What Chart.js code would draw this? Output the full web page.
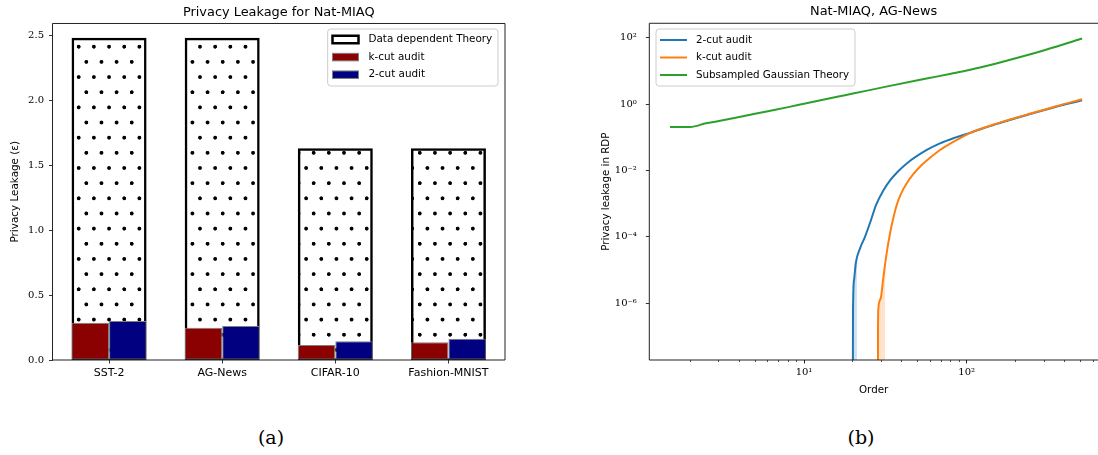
<!DOCTYPE html>
<html><head><meta charset="utf-8">
<script src="https://cdn.jsdelivr.net/npm/chart.js@4.4.0/dist/chart.umd.min.js"></script>
<style>
html,body{margin:0;padding:0;background:#fff;overflow:hidden;width:1098px;height:455px;}
#wrapA{position:absolute;left:0;top:0;width:545px;height:410px;}
#wrapB{position:absolute;left:560px;top:0;width:538px;height:410px;}
.cap{position:absolute;top:424px;font-family:'DejaVu Serif';font-size:19px;line-height:26px;width:60px;text-align:center;color:#000;}
</style></head><body>
<div id="wrapA"><canvas id="cA" width="545" height="410"></canvas></div>
<div id="wrapB"><canvas id="cB" width="538" height="410"></canvas></div>
<div class="cap" style="left:241px">(a)</div>
<div class="cap" style="left:831px">(b)</div>
<script>
// ---------- (a) data ----------
const DATASET_NAMES = ['SST-2', 'AG-News', 'CIFAR-10', 'Fashion-MNIST'];
const THEORY_EPS = [2.47, 2.47, 1.62, 1.62];
const KCUT_EPS = [0.287, 0.249, 0.115, 0.136];
const TWOCUT_EPS = [0.300, 0.262, 0.144, 0.164];
const EPS_TICKS = [0, 0.5, 1.0, 1.5, 2.0, 2.5];

// ---------- (b) data ----------
const SG_ORDERS = [1.5, 2, 2.5, 3, 4, 5, 6, 8, 10, 16, 20, 32, 50, 64, 80, 100, 128, 150, 200, 256, 300, 400, 512];
const SG_RDP = [0.204, 0.204, 0.264, 0.31, 0.41, 0.51, 0.61, 0.81, 1.02, 1.65, 2.07, 3.35, 5.2, 6.6, 8.2, 10.2, 13.5, 16.4, 23.9, 33.5, 42, 64.3, 95];
const TWOCUT_ORDERS = [1.5, 19.9, 20.0, 20.3, 20.8, 22.1, 23.7, 25.8, 27.7, 30.6, 33.8, 37.8, 42.8, 56.8, 68.5, 84.7, 104.7, 150, 234, 350, 512];
const TWOCUT_RDP = [0, 0, 5e-7, 5e-6, 1.6e-5, 4.5e-5, 1.0e-4, 3.2e-4, 9.1e-4, 2.4e-3, 5.0e-3, 9.3e-3, 0.0163, 0.0414, 0.0655, 0.0973, 0.136, 0.245, 0.47, 0.82, 1.30];
const KCUT_ORDERS = [1.5, 28.4, 28.5, 28.6, 29.6, 30.7, 32.2, 33.8, 35.4, 37.3, 39.5, 42.8, 46.8, 51.6, 59.5, 68.5, 84.7, 104.7, 150, 234, 350, 512];
const KCUT_RDP = [0, 0, 1.6e-7, 6.3e-7, 1.4e-6, 5.7e-6, 3.2e-5, 1.28e-4, 3.7e-4, 9.8e-4, 2.0e-3, 4.1e-3, 7.6e-3, 0.013, 0.0241, 0.0414, 0.0774, 0.134, 0.25, 0.48, 0.85, 1.40];
const TWOCUT_BAND_ORDERS = [19.9, 20.3, 20.8, 21.1, 21.15, 21.4];
const TWOCUT_BAND_LOW = [0, 0, 0, 0, 1.8e-5, 2.6e-5];
const TWOCUT_BAND_HIGH = [6e-7, 5e-6, 1.6e-5, 2.2e-5, 2.3e-5, 2.7e-5];
const KCUT_BAND_ORDERS = [28.4, 28.6, 29.6, 30.7, 31.4, 31.5, 31.9];
const KCUT_BAND_LOW = [0, 0, 0, 0, 0, 6e-6, 1.6e-5];
const KCUT_BAND_HIGH = [3e-7, 8e-7, 1.6e-6, 6e-6, 1.1e-5, 1.2e-5, 1.7e-5];
const RDP_Y_TICKS = [1e-6, 1e-4, 1e-2, 1, 100];
const ORDER_MAJOR_TICKS = [10, 100];
const ORDER_MINOR_TICKS = [2, 3, 4, 5, 6, 7, 8, 9, 20, 30, 40, 50, 60, 70, 80, 90, 200, 300, 400, 500, 600];
const RDP_FLOOR = 1e-12; // zero leakage shown below the log axis

const SANS = "'DejaVu Sans'";
const SERIF = "'DejaVu Serif'";
Chart.defaults.color = '#000';
Chart.defaults.font.family = SANS;

const SUP = {'-': '\u207B', '0': '\u2070', '1': '\u00B9', '2': '\u00B2', '3': '\u00B3', '4': '\u2074', '5': '\u2075', '6': '\u2076', '7': '\u2077', '8': '\u2078', '9': '\u2079'};
const pow10Label = v => '10' + String(Math.round(Math.log10(v))).split('').map(c => SUP[c]).join('');

// frame (spines)
const framePlugin = {
  id: 'frame',
  afterDatasetsDraw(chart, args, opts) {
    const {ctx, chartArea: a} = chart;
    ctx.save();
    ctx.strokeStyle = '#222'; ctx.lineWidth = 1;
    ctx.beginPath();
    if (opts.right) { ctx.moveTo(a.right, a.bottom); ctx.lineTo(a.right, a.top); } else { ctx.moveTo(a.right + 2, a.top); }
    ctx.lineTo(a.left, a.top); ctx.lineTo(a.left, a.bottom); ctx.lineTo(a.right + (opts.right ? 0 : 2), a.bottom);
    if (opts.right) ctx.closePath();
    ctx.stroke();
    ctx.restore();
  }
};

// matplotlib-style legend
const mplLegend = {
  id: 'mplLegend',
  afterDraw(chart, args, o) {
    const ctx = chart.ctx;
    const items = chart.data.datasets.filter(d => d.label && !d.noLegend);
    ctx.save();
    ctx.beginPath();
    ctx.roundRect(o.x, o.y, o.w, o.h, 3);
    ctx.fillStyle = 'rgba(255,255,255,0.8)'; ctx.fill();
    ctx.strokeStyle = '#cccccc'; ctx.lineWidth = 1; ctx.stroke();
    ctx.font = o.font; ctx.textBaseline = 'middle'; ctx.textAlign = 'left';
    items.forEach((d, i) => {
      const cy = o.firstY + i * o.gap;
      if (o.kind === 'line') {
        ctx.strokeStyle = d.borderColor; ctx.lineWidth = d.borderWidth;
        ctx.beginPath(); ctx.moveTo(o.hx, cy); ctx.lineTo(o.hx + o.hw, cy); ctx.stroke();
      } else {
        ctx.fillStyle = d.legendFill || d.backgroundColor;
        ctx.fillRect(o.hx, cy - o.hh / 2, o.hw, o.hh);
        ctx.strokeStyle = d.borderColor; ctx.lineWidth = d.borderWidth;
        ctx.strokeRect(o.hx, cy - o.hh / 2, o.hw, o.hh);
      }
      ctx.fillStyle = '#000';
      ctx.fillText(d.label, o.tx, cy);
    });
    ctx.restore();
  }
};

// dotted hatch
function dotPattern(ctx) {
  const t = document.createElement('canvas'); t.width = 30; t.height = 60;
  const g = t.getContext('2d');
  g.fillStyle = '#fff'; g.fillRect(0, 0, 30, 60);
  g.fillStyle = '#000';
  [[0, 0], [30, 0], [0, 60], [30, 60], [15, 30]].forEach(([x, y]) => { g.beginPath(); g.arc(x, y, 3.7, 0, Math.PI * 2); g.fill(); });
  const p = ctx.createPattern(t, 'repeat');
  p.setTransform(new DOMMatrix().translate(78.7, 46.7).scale(0.5053));
  return p;
}

const ctxA = document.getElementById('cA').getContext('2d');
new Chart(ctxA, {
  type: 'bar',
  data: {
    labels: DATASET_NAMES,
    datasets: [
      {label: 'Data dependent Theory', data: THEORY_EPS, backgroundColor: dotPattern(ctxA), legendFill: '#fff',
       borderColor: '#000', borderWidth: 2.5, borderSkipped: false, inflateAmount: 1.25,
       grouped: false, categoryPercentage: 0.641, barPercentage: 1, order: 2},
      {label: 'k-cut audit', data: KCUT_EPS, backgroundColor: '#8b0000', borderColor: '#7f7f7f', borderWidth: 1,
       borderSkipped: false, inflateAmount: 0, categoryPercentage: 0.66, barPercentage: 1, order: 1},
      {label: '2-cut audit', data: TWOCUT_EPS, backgroundColor: '#000080', borderColor: '#7f7f7f', borderWidth: 1,
       borderSkipped: false, inflateAmount: 0, categoryPercentage: 0.66, barPercentage: 1, order: 1}
    ]
  },
  options: {
    responsive: false, animation: false, devicePixelRatio: 1, events: [],
    layout: {padding: {left: 0, right: 40, top: 0, bottom: 10}},
    scales: {
      x: {
        type: 'category', offset: true,
        grid: {offset: false, drawOnChartArea: false, drawTicks: true, tickLength: 3.5, color: '#000', lineWidth: 0.8},
        border: {display: false},
        ticks: {font: {family: SANS, size: 11}, color: '#000', padding: 3, maxRotation: 0},
        afterFit: s => { s.height = 40; }
      },
      y: {
        min: 0, max: 2.59,
        afterBuildTicks: s => { s.ticks = EPS_TICKS.map(v => ({value: v})); },
        ticks: {font: {family: SERIF, size: 10}, color: '#000', padding: 5, callback: v => Number(v).toFixed(1)},
        grid: {drawOnChartArea: false, drawTicks: true, tickLength: 3.5, color: '#000', lineWidth: 0.8},
        border: {display: false},
        title: {display: true, text: 'Privacy Leakage (\u03B5)', font: {family: SANS, size: 10.4}, color: '#000', padding: {top: 8.8, bottom: 0}},
        afterFit: s => { s.width = 52.5; }
      }
    },
    plugins: {
      legend: {display: false}, tooltip: {enabled: false},
      title: {display: true, text: 'Privacy Leakage for Nat-MIAQ', fullSize: false, color: '#000',
              font: {family: SANS, size: 12.9, weight: 'normal'}, padding: {top: 4.5, bottom: 3.5}},
      frame: {right: true},
      mplLegend: {x: 327.7, y: 29, w: 170.3, h: 57, firstY: 39.5, gap: 17.6, hx: 332.5, hw: 26, hh: 7.5, tx: 368.5,
                  kind: 'rect', font: "10.4px 'DejaVu Sans'"}
    }
  },
  plugins: [framePlugin, mplLegend]
});

// ---------- (b) ----------
const pts = (xs, ys) => xs.map((x, i) => ({x: x, y: ys[i] > 0 ? ys[i] : RDP_FLOOR}));
const band = (xs, lo, hi) => pts(xs, lo).concat(pts(xs, hi).reverse());
const X_MIN = 1.12, X_MAX = 641, Y_MIN = 1.95e-8, Y_MAX = 271.6;

new Chart(document.getElementById('cB'), {
  type: 'scatter',
  data: {
    datasets: [
      {label: '2-cut audit', data: pts(TWOCUT_ORDERS, TWOCUT_RDP), showLine: true, borderColor: '#1f77b4', borderWidth: 2, pointRadius: 0, fill: false, order: 3, cubicInterpolationMode: 'monotone'},
      {label: 'k-cut audit', data: pts(KCUT_ORDERS, KCUT_RDP), showLine: true, borderColor: '#ff7f0e', borderWidth: 2, pointRadius: 0, fill: false, order: 2, cubicInterpolationMode: 'monotone'},
      {label: 'Subsampled Gaussian Theory', data: pts(SG_ORDERS, SG_RDP), showLine: true, borderColor: '#2ca02c', borderWidth: 2, pointRadius: 0, fill: false, order: 1, cubicInterpolationMode: 'monotone'},
      {noLegend: true, data: band(TWOCUT_BAND_ORDERS, TWOCUT_BAND_LOW, TWOCUT_BAND_HIGH), showLine: true, borderWidth: 0, borderColor: 'rgba(0,0,0,0)',
       backgroundColor: 'rgba(31,119,180,0.22)', fill: 'shape', pointRadius: 0, order: 4},
      {noLegend: true, data: band(KCUT_BAND_ORDERS, KCUT_BAND_LOW, KCUT_BAND_HIGH), showLine: true, borderWidth: 0, borderColor: 'rgba(0,0,0,0)',
       backgroundColor: 'rgba(255,127,14,0.22)', fill: 'shape', pointRadius: 0, order: 4}
    ]
  },
  options: {
    responsive: false, animation: false, devicePixelRatio: 1, events: [],
    layout: {padding: {left: 0, right: 0, top: 0, bottom: 10}},
    scales: {
      x: {
        type: 'logarithmic', position: 'bottom', min: X_MIN, max: X_MAX,
        afterBuildTicks: s => { s.ticks = ORDER_MINOR_TICKS.concat(ORDER_MAJOR_TICKS).sort((a, b) => a - b).map(v => ({value: v})); },
        ticks: {autoSkip: false, maxRotation: 0, font: {family: SERIF, size: 10}, color: '#000', padding: 4.5,
                callback: v => ORDER_MAJOR_TICKS.includes(v) ? pow10Label(v) : ''},
        grid: {drawOnChartArea: false, drawTicks: true, tickLength: 2, color: '#000', lineWidth: 0.7},
        border: {display: false},
        title: {display: true, text: 'Order', font: {family: SANS, size: 10.3}, color: '#000', padding: {top: 0, bottom: 3.8}},
        afterFit: s => { s.height = 40; }
      },
      xMaj: {
        type: 'logarithmic', position: 'bottom', min: X_MIN, max: X_MAX, weight: -10,
        afterBuildTicks: s => { s.ticks = ORDER_MAJOR_TICKS.map(v => ({value: v})); },
        ticks: {display: false},
        grid: {drawOnChartArea: false, drawTicks: true, tickLength: 3.5, color: '#000', lineWidth: 0.8},
        border: {display: false},
        afterFit: s => { s.height = 0; }
      },
      y: {
        type: 'logarithmic', min: Y_MIN, max: Y_MAX,
        afterBuildTicks: s => { s.ticks = RDP_Y_TICKS.map(v => ({value: v})); },
        ticks: {font: {family: SERIF, size: 10}, color: '#000', padding: 9, callback: v => pow10Label(v)},
        grid: {drawOnChartArea: false, drawTicks: true, tickLength: 3.5, color: '#000', lineWidth: 0.8},
        border: {display: false},
        title: {display: true, text: 'Privacy leakage in RDP', font: {family: SANS, size: 10.3}, color: '#000', padding: {top: 39.8, bottom: 0}},
        afterFit: s => { s.width = 89.3; }
      }
    },
    plugins: {
      legend: {display: false}, tooltip: {enabled: false},
      title: {display: true, text: 'Nat-MIAQ, AG-News', fullSize: false, color: '#000',
              font: {family: SANS, size: 12.9, weight: 'normal'}, padding: {top: 4.3, bottom: 3.5}},
      frame: {right: false},
      mplLegend: {x: 96, y: 29, w: 199, h: 57, firstY: 40, gap: 17.5, hx: 100, hw: 27, tx: 136,
                  kind: 'line', font: "10.3px 'DejaVu Sans'"}
    }
  },
  plugins: [framePlugin, mplLegend]
});
</script>
</body></html>
